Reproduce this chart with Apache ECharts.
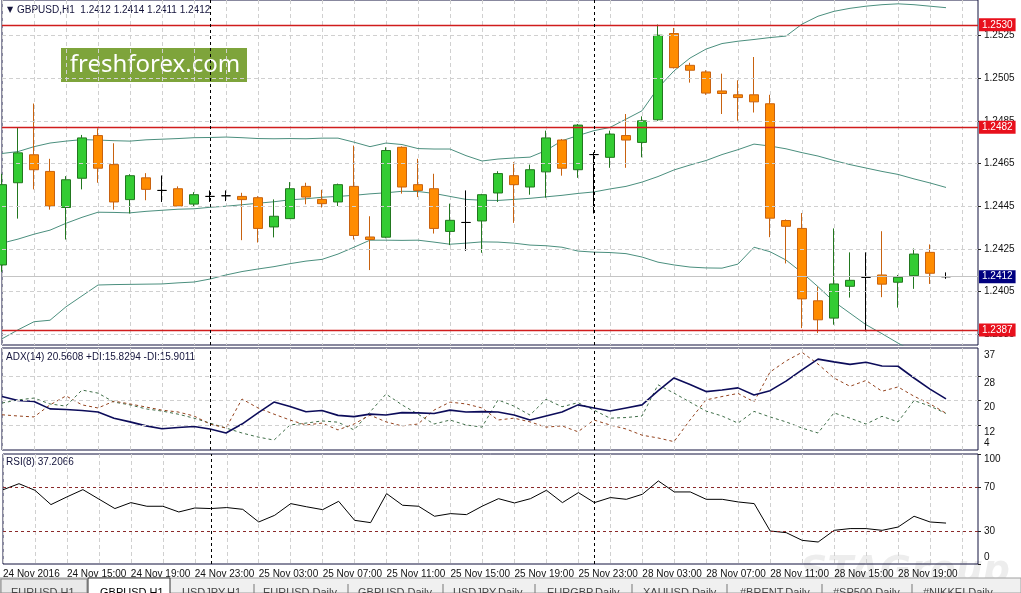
<!DOCTYPE html>
<html>
<head>
<meta charset="utf-8">
<title>GBPUSD,H1</title>
<script src="https://cdn.jsdelivr.net/npm/echarts@6.0.0/dist/echarts.min.js"></script>
<style>
html, body { margin: 0; padding: 0; background: #fff; }
#chart { width: 1021px; height: 593px; }
</style>
</head>
<body>
<div id="chart"></div>
<script>
// bars: [open, high, low, close]
var ohlc = [
  [1.24175, 1.24602, 1.24143, 1.24551], [1.24560, 1.24819, 1.24392, 1.24700],
  [1.24691, 1.24931, 1.24529, 1.24621], [1.24613, 1.24672, 1.24434, 1.24451],
  [1.24444, 1.24591, 1.24294, 1.24574], [1.24581, 1.24784, 1.24529, 1.24770],
  [1.24781, 1.24815, 1.24560, 1.24628], [1.24645, 1.24745, 1.24434, 1.24470],
  [1.24481, 1.24600, 1.24416, 1.24593], [1.24583, 1.24605, 1.24478, 1.24529],
  [1.24524, 1.24594, 1.24470, 1.24524], [1.24532, 1.24543, 1.24448, 1.24451],
  [1.24460, 1.24516, 1.24450, 1.24504], [1.24496, 1.24524, 1.24470, 1.24496],
  [1.24499, 1.24524, 1.24474, 1.24499], [1.24496, 1.24513, 1.24291, 1.24481],
  [1.24490, 1.24497, 1.24280, 1.24346], [1.24353, 1.24482, 1.24304, 1.24403],
  [1.24392, 1.24563, 1.24390, 1.24532], [1.24543, 1.24560, 1.24459, 1.24493],
  [1.24482, 1.24527, 1.24444, 1.24462], [1.24470, 1.24556, 1.24451, 1.24551],
  [1.24543, 1.24734, 1.24294, 1.24313], [1.24306, 1.24403, 1.24151, 1.24294],
  [1.24305, 1.24726, 1.24300, 1.24711], [1.24726, 1.24730, 1.24509, 1.24540],
  [1.24551, 1.24672, 1.24493, 1.24524], [1.24532, 1.24602, 1.24322, 1.24346],
  [1.24332, 1.24462, 1.24268, 1.24384], [1.24374, 1.24524, 1.24241, 1.24374],
  [1.24381, 1.24508, 1.24232, 1.24504], [1.24512, 1.24614, 1.24470, 1.24603],
  [1.24593, 1.24656, 1.24372, 1.24551], [1.24540, 1.24645, 1.24504, 1.24621],
  [1.24611, 1.24804, 1.24490, 1.24770], [1.24760, 1.24765, 1.24593, 1.24628],
  [1.24621, 1.24835, 1.24583, 1.24830], [1.24692, 1.24703, 1.24416, 1.24692],
  [1.24679, 1.24804, 1.24630, 1.24788], [1.24781, 1.24882, 1.24630, 1.24760],
  [1.24749, 1.24871, 1.24679, 1.24850], [1.24855, 1.25301, 1.24850, 1.25251],
  [1.25259, 1.25285, 1.25095, 1.25099], [1.25110, 1.25122, 1.25029, 1.25087],
  [1.25079, 1.25087, 1.24972, 1.24980], [1.24990, 1.25071, 1.24882, 1.24978],
  [1.24972, 1.25040, 1.24850, 1.24959], [1.24972, 1.25149, 1.24889, 1.24939],
  [1.24930, 1.24972, 1.24305, 1.24394], [1.24383, 1.24388, 1.24182, 1.24356],
  [1.24346, 1.24418, 1.23879, 1.24016], [1.24007, 1.24073, 1.23856, 1.23918],
  [1.23926, 1.24346, 1.23895, 1.24086], [1.24075, 1.24234, 1.24022, 1.24103],
  [1.24117, 1.24234, 1.23864, 1.24117], [1.24128, 1.24333, 1.24024, 1.24085],
  [1.24094, 1.24128, 1.23975, 1.24117], [1.24125, 1.24252, 1.24063, 1.24226],
  [1.24234, 1.24271, 1.24086, 1.24136], [1.24120, 1.24140, 1.24110, 1.24120]
];

var bbUpper = [
  1.24697, 1.24706, 1.24729, 1.24746, 1.24755, 1.24762, 1.24760, 1.24757, 1.24755, 1.24761,
  1.24764, 1.24767, 1.24771, 1.24772, 1.24774, 1.24771, 1.24767, 1.24766, 1.24767, 1.24766,
  1.24769, 1.24769, 1.24750, 1.24729, 1.24746, 1.24739, 1.24720, 1.24718, 1.24718, 1.24687,
  1.24662, 1.24671, 1.24676, 1.24680, 1.24711, 1.24757, 1.24781, 1.24804, 1.24819, 1.24858,
  1.24897, 1.25004, 1.25084, 1.25144, 1.25186, 1.25212, 1.25223, 1.25231, 1.25240, 1.25247,
  1.25303, 1.25340, 1.25363, 1.25377, 1.25387, 1.25394, 1.25398, 1.25394, 1.25387, 1.25380
];
var bbMiddle = [
  1.24277, 1.24296, 1.24319, 1.24338, 1.24370, 1.24398, 1.24422, 1.24421, 1.24419, 1.24426,
  1.24431, 1.24436, 1.24438, 1.24445, 1.24450, 1.24457, 1.24464, 1.24471, 1.24480, 1.24485,
  1.24492, 1.24496, 1.24501, 1.24508, 1.24513, 1.24520, 1.24519, 1.24510, 1.24496, 1.24482,
  1.24478, 1.24477, 1.24482, 1.24487, 1.24494, 1.24501, 1.24510, 1.24517, 1.24531, 1.24543,
  1.24563, 1.24589, 1.24620, 1.24643, 1.24664, 1.24692, 1.24715, 1.24741, 1.24732, 1.24719,
  1.24701, 1.24685, 1.24664, 1.24645, 1.24629, 1.24613, 1.24599, 1.24578, 1.24559, 1.24538
];
var bbLower = [
  1.23829, 1.23871, 1.23909, 1.23916, 1.23979, 1.24030, 1.24081, 1.24083, 1.24084, 1.24085,
  1.24086, 1.24091, 1.24095, 1.24109, 1.24128, 1.24144, 1.24156, 1.24167, 1.24181, 1.24193,
  1.24201, 1.24226, 1.24258, 1.24291, 1.24291, 1.24290, 1.24291, 1.24282, 1.24272, 1.24277,
  1.24283, 1.24282, 1.24277, 1.24268, 1.24265, 1.24258, 1.24240, 1.24235, 1.24233, 1.24228,
  1.24212, 1.24188, 1.24175, 1.24165, 1.24161, 1.24160, 1.24179, 1.24258, 1.24237, 1.24198,
  1.24139, 1.24073, 1.24003, 1.23949, 1.23895, 1.23853, 1.23809, 1.23769, null, null
];

var adx = [
  21.3, 20.0, 19.7, 17.3, 17.1, 16.8, 16.3, 14.3, 13.1, 11.8,
  10.9, 11.3, 11.6, 10.8, 9.5, 12.4, 16.0, 19.5, 18.1, 16.4,
  16.8, 15.2, 14.8, 15.6, 15.3, 16.1, 16.0, 15.8, 16.9, 16.3,
  16.4, 16.3, 15.3, 13.7, 15.0, 16.3, 18.6, 17.6, 16.6, 17.6,
  18.6, 23.1, 27.3, 25.2, 22.9, 23.4, 24.1, 21.8, 23.2, 26.3,
  29.9, 33.4, 32.5, 31.7, 32.4, 31.2, 31.1, 27.3, 23.7, 20.56
];
var plusDi = [
  19.2, 20.2, 20.8, 18.9, 18.2, 23.4, 22.4, 19.5, 18.6, 17.3,
  16.6, 15.6, 14.3, 12.7, 11.1, 9.5, 8.2, 7.2, 12.1, 12.7,
  13.4, 13.0, 10.5, 16.3, 22.1, 18.6, 15.6, 12.4, 13.7, 12.1,
  11.4, 20.2, 18.2, 15.3, 20.4, 18.0, 19.3, 16.9, 14.3, 14.5,
  15.0, 25.1, 22.4, 19.5, 16.6, 15.0, 12.7, 16.5, 14.7, 13.1,
  11.1, 9.5, 16.0, 14.3, 12.4, 14.9, 13.1, 20.0, 18.2, 15.83
];
var minusDi = [
  15.4, 15.0, 14.7, 18.6, 21.5, 18.6, 17.6, 19.8, 18.9, 17.9,
  16.9, 16.3, 15.0, 12.4, 11.1, 20.5, 17.6, 15.6, 13.7, 12.1,
  12.7, 10.5, 12.4, 15.3, 13.1, 11.8, 12.4, 16.9, 19.5, 18.9,
  17.6, 13.7, 14.3, 13.1, 11.4, 11.8, 9.9, 13.7, 12.1, 10.8,
  8.8, 7.9, 6.7, 13.7, 20.2, 21.3, 22.3, 19.6, 29.2, 32.8,
  35.6, 31.8, 27.3, 24.6, 26.5, 23.0, 24.4, 21.4, 18.9, 15.90
];
var rsi = [
  67.5, 73, 67, 54, 61, 67.6, 59, 50.4, 55.8, 52.5,
  52.5, 47.3, 50.9, 50.4, 51.3, 49.7, 38.2, 44.3, 54.9, 52,
  49.4, 57, 39.7, 37.6, 64, 53.4, 52.5, 43.4, 45.8, 44.9,
  52.7, 59.4, 55.5, 59.4, 67, 55.8, 64.9, 55.8, 60.4, 58.8,
  63.4, 75.5, 65.5, 65.5, 58.8, 58.8, 56.4, 54.9, 30, 28.5,
  21.5, 20, 30.6, 32.2, 32.2, 30.6, 33.6, 43.4, 38.2, 37.2
];

var priceTicks = [1.2385, 1.2405, 1.2425, 1.2445, 1.2465, 1.2485, 1.2505, 1.2525];
var adxGridTicks = [12, 20, 28];
var adxTicks = [4, 12, 20, 28, 37];
var rsiTicks = [0, 30, 70, 100];
var rsiLevels = [70, 30];
var levels = [1.2530, 1.2482, 1.2387];
var bid = 1.2412;
var daySeparators = [13, 37];
var tabs = ['EURUSD,H1', 'GBPUSD,H1', 'USDJPY,H1', 'EURUSD,Daily', 'GBPUSD,Daily', 'USDJPY,Daily',
            'EURGBP,Daily', 'XAUUSD,Daily', '#BRENT,Daily', '#SP500,Daily', '#NIKKEI,Daily'];
var tabX = [11, 100, 182, 263, 358, 453, 547, 643, 740, 833, 923];
var tabSeps = [254, 348, 443, 535, 632, 727, 822, 912];

// hourly bar times (plus two empty slots on the right)
var sessions = [['24 Nov', 11, 23], ['25 Nov', 0, 23], ['28 Nov', 0, 23], ['29 Nov', 0, 0]];
var times = [];
sessions.forEach(function (s) {
  for (var h = s[1]; h <= s[2]; h++) times.push(s[0] + ' ' + (h < 10 ? '0' : '') + h + ':00');
});

var FONT = 'Liberation Sans, Arial, sans-serif';
var border = '#12123f';
function gridLine() { return { color: '#d0d0d0', type: [4, 3], width: 1 }; }

var candleData = ohlc.map(function (r) { return [r[0], r[3], r[2], r[1]]; });

function xAxisFor(i, withLabels) {
  return {
    gridIndex: i, type: 'category', data: times, boundaryGap: false,
    axisLine: { show: false }, axisTick: { show: false },
    splitLine: { show: true, interval: 1, lineStyle: gridLine() },
    axisLabel: withLabels ? {
      interval: 3, align: 'left', margin: 5, color: '#111', fontSize: 10, fontFamily: FONT,
      formatter: function (v, idx) { return idx === 0 ? '24 Nov 2016' : (idx < ohlc.length ? v : ''); }
    } : { show: false }
  };
}

function hGrid(values) {
  return values.map(function (v) { return { yAxis: v, lineStyle: gridLine(), label: { show: false } }; });
}

function separators() {
  return daySeparators.map(function (i) {
    return { xAxis: times[i], lineStyle: { color: '#000', type: [3, 3], width: 1 }, label: { show: false } };
  });
}

var chart = echarts.init(document.getElementById('chart'));
chart.setOption({
  animation: false,
  backgroundColor: '#fff',
  grid: [
    { left: 2, width: 976, top: -1, height: 346, show: true, borderColor: border, borderWidth: 1 },
    { left: 2, width: 976, top: 348, height: 102, show: true, borderColor: border, borderWidth: 1 },
    { left: 2, width: 976, top: 454, height: 110, show: true, borderColor: border, borderWidth: 1 }
  ],
  xAxis: [xAxisFor(0, false), xAxisFor(1, false), xAxisFor(2, true)],
  yAxis: [
    {
      gridIndex: 0, type: 'value', position: 'right', min: 1.2380, max: 1.25416,
      axisLine: { show: false }, splitLine: { show: false },
      axisTick: { show: true, customValues: priceTicks, length: 3, lineStyle: { color: '#222' } },
      axisLabel: { customValues: priceTicks, margin: 6, color: '#111', fontSize: 10, fontFamily: FONT,
        formatter: function (v) { return v.toFixed(4); } }
    },
    {
      gridIndex: 1, type: 'value', position: 'right', min: 4, max: 37,
      axisLine: { show: false }, splitLine: { show: false },
      axisTick: { show: true, customValues: adxGridTicks, length: 3, lineStyle: { color: '#222' } },
      axisLabel: { customValues: adxTicks, margin: 6, color: '#111', fontSize: 10, fontFamily: FONT,
        verticalAlign: 'middle',
        formatter: function (v) { return v === 4 ? '{b|4}' : '{t|' + v + '}'; },
        rich: { t: { padding: [14, 0, 0, 0] }, b: { padding: [0, 0, 14, 0] } } }
    },
    {
      gridIndex: 2, type: 'value', position: 'right', min: 0, max: 100,
      axisLine: { show: false }, splitLine: { show: false },
      axisTick: { show: true, customValues: rsiTicks, length: 3, lineStyle: { color: '#222' } },
      axisLabel: { customValues: rsiTicks, margin: 6, color: '#111', fontSize: 10, fontFamily: FONT,
        verticalAlign: 'middle',
        formatter: function (v) { return v === 100 ? '{t|100}' : (v === 0 ? '{b|0}' : String(v)); },
        rich: { t: { padding: [11, 0, 0, 0] }, b: { padding: [0, 0, 14, 0] } } }
    }
  ],
  series: [
    {
      name: 'BB upper', type: 'line', xAxisIndex: 0, yAxisIndex: 0, data: bbUpper, symbol: 'none', z: 2,
      lineStyle: { color: '#4b8f7e', width: 1 },
      markLine: { symbol: 'none', silent: true, animation: false, precision: 5, data: hGrid(priceTicks) }
    },
    {
      name: 'BB middle', type: 'line', xAxisIndex: 0, yAxisIndex: 0, data: bbMiddle, symbol: 'none', z: 2,
      lineStyle: { color: '#4b8f7e', width: 1 },
      markLine: {
        symbol: 'none', silent: true, animation: false, precision: 5,
        lineStyle: { color: '#d01c1c', width: 1.4, type: 'solid', opacity: 1 },
        label: { show: true, position: 'end', distance: 1, color: '#fff', fontSize: 10, fontFamily: FONT,
          padding: [2, 3, 1, 3], backgroundColor: '#e8101c',
          formatter: function (p) { return Number(p.value).toFixed(4); } },
        data: levels.map(function (v) { return { yAxis: v }; }).concat([
          { yAxis: bid, lineStyle: { color: '#c4c4c4', width: 1, type: 'solid' }, label: { backgroundColor: '#000080' } }
        ])
      }
    },
    { name: 'BB lower', type: 'line', xAxisIndex: 0, yAxisIndex: 0, data: bbLower, symbol: 'none', z: 2,
      lineStyle: { color: '#4b8f7e', width: 1 } },
    {
      name: 'GBPUSD', type: 'candlestick', xAxisIndex: 0, yAxisIndex: 0, data: candleData, z: 3,
      barWidth: 9,
      itemStyle: { color: '#33cc33', color0: '#ff8c00', borderColor: '#22771f', borderColor0: '#c8620f',
        borderColorDoji: '#000', borderWidth: 1 },
      markLine: { symbol: 'none', silent: true, animation: false, data: separators() }
    },
    {
      name: 'ADX', type: 'line', xAxisIndex: 1, yAxisIndex: 1, data: adx, symbol: 'none', z: 3,
      lineStyle: { color: '#0c0c5a', width: 1.6 },
      markLine: { symbol: 'none', silent: true, animation: false, data: separators() }
    },
    { name: '+DI', type: 'line', xAxisIndex: 1, yAxisIndex: 1, data: plusDi, symbol: 'none', z: 2,
      lineStyle: { color: '#3f6e48', width: 1, type: [3, 3] },
      markLine: { symbol: 'none', silent: true, animation: false, precision: 2, data: hGrid(adxGridTicks) } },
    { name: '-DI', type: 'line', xAxisIndex: 1, yAxisIndex: 1, data: minusDi, symbol: 'none', z: 2,
      lineStyle: { color: '#94431e', width: 1, type: [3, 3] } },
    {
      name: 'RSI', type: 'line', xAxisIndex: 2, yAxisIndex: 2, data: rsi, symbol: 'none', z: 3,
      lineStyle: { color: '#000', width: 1 },
      markLine: {
        symbol: 'none', silent: true, animation: false,
        data: rsiLevels.map(function (v) {
          return { yAxis: v, lineStyle: { color: '#8b2a2a', type: [3, 3], width: 1 }, label: { show: false } };
        }).concat(separators())
      }
    }
  ],
  graphic: [
    { type: 'text', x: 7, y: 10, style: { text: '\u25BC', font: '8px DejaVu Sans', fill: '#14143c', verticalAlign: 'middle' } },
    { type: 'text', x: 17, y: 10, style: { text: 'GBPUSD,H1  1.2412 1.2414 1.2411 1.2412', font: '10px ' + FONT, fill: '#14143c', verticalAlign: 'middle' } },
    { type: 'rect', shape: { x: 61, y: 48, width: 186, height: 34 }, style: { fill: '#7ea43b' } },
    { type: 'text', x: 155, y: 65, style: { text: 'freshforex.com', font: '24px Noto Sans', fill: '#fff', align: 'center', verticalAlign: 'middle' } },
    { type: 'text', x: 6, y: 357, style: { text: 'ADX(14) 20.5608 +DI:15.8294 -DI:15.9011', font: '10px ' + FONT, fill: '#14143c', verticalAlign: 'middle' } },
    { type: 'text', x: 6, y: 462, style: { text: 'RSI(8) 37.2066', font: '10px ' + FONT, fill: '#14143c', verticalAlign: 'middle' } },
    { type: 'text', x: 905, y: 572, z: -1, style: { text: 'STAGroup', font: 'italic bold 38px DejaVu Sans', fill: 'rgba(0,0,0,0.07)', align: 'center', verticalAlign: 'middle' } },
    { type: 'rect', shape: { x: 0, y: 578, width: 1021, height: 15 }, style: { fill: '#f0f0f0', stroke: '#a0a0a0', lineWidth: 1 } },
    { type: 'rect', shape: { x: 1, y: 579, width: 86, height: 14 }, style: { fill: '#e9e9e9', stroke: '#8a8a8a', lineWidth: 1 } },
    { type: 'rect', shape: { x: 88, y: 578, width: 82, height: 16 }, style: { fill: '#fff', stroke: '#333', lineWidth: 1 } }
  ].concat(tabs.map(function (t, i) {
    return { type: 'text', x: tabX[i], y: 587, style: { text: t, font: '11px ' + FONT, fill: i === 1 ? '#000' : '#444', verticalAlign: 'top' } };
  })).concat(tabSeps.map(function (x) {
    return { type: 'line', shape: { x1: x, y1: 584, x2: x, y2: 593 }, style: { stroke: '#777', lineWidth: 1 } };
  }))
});
</script>
</body>
</html>
